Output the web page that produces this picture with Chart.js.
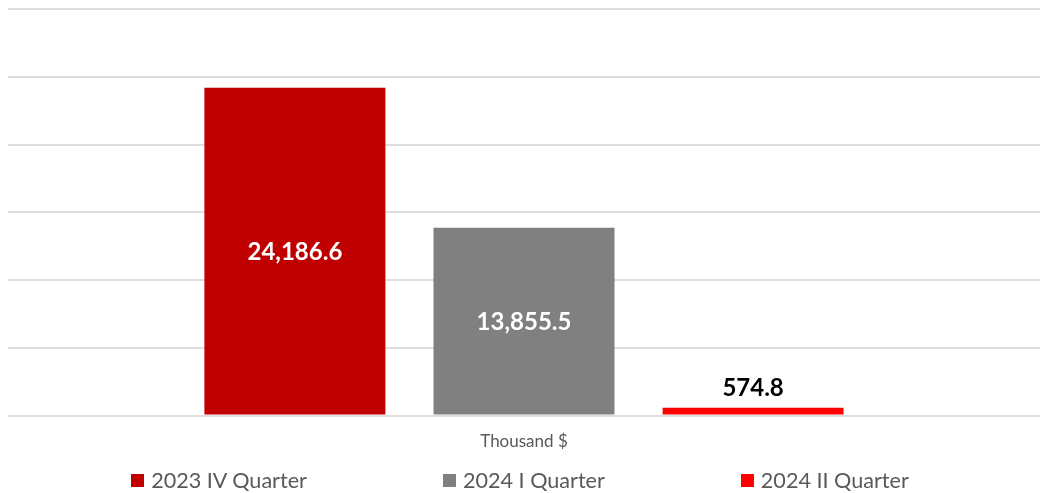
<!DOCTYPE html>
<html>
<head>
<meta charset="utf-8">
<script src="https://cdn.jsdelivr.net/npm/chart.js@4"></script>
<style>
  html, body { margin: 0; padding: 0; background: #ffffff; }
  #wrap { width: 1040px; height: 493px; position: relative; }
  #legend {
    position: absolute; left: 0; top: 467px; width: 1040px; height: 26px;
    display: flex; justify-content: center; align-items: center; gap: 136px;
    font-family: Lato, sans-serif; font-size: 21.6px; color: #595959; white-space: nowrap;
  }
  #legend .item { display: flex; align-items: center; }
  #legend .box { width: 13px; height: 13px; margin-right: 7px; }
</style>
</head>
<body>
<div id="wrap"><canvas id="c"></canvas><div id="legend"></div></div>
<script>
const categories = [''];
const seriesNames = ['2023 IV Quarter', '2024 I Quarter', '2024 II Quarter'];
const seriesValues = [[24186.6], [13855.5], [574.8]];
const seriesColors = ['#c00000', '#808080', '#ff0000'];
const labelColors = ['#ffffff', '#ffffff', '#000000'];
const labelInside = [true, true, false];
const axisTitle = 'Thousand $';
const yMax = 30000;
const yStep = 5000;

const fmt = v => v.toLocaleString('en-US', { minimumFractionDigits: 1, maximumFractionDigits: 1 });

const valueLabels = {
  id: 'valueLabels',
  afterDatasetsDraw(chart) {
    const ctx = chart.ctx;
    ctx.save();
    ctx.font = 'bold 24px Lato';
    ctx.textAlign = 'center';
    ctx.textBaseline = 'middle';
    chart.data.datasets.forEach((ds, i) => {
      const meta = chart.getDatasetMeta(i);
      meta.data.forEach((bar, j) => {
        const v = ds.data[j];
        const y = labelInside[i] ? (bar.y + bar.base) / 2 + 1 : bar.y - 20;
        ctx.fillStyle = labelColors[i];
        ctx.fillText(fmt(v), bar.x, y);
      });
    });
    ctx.restore();
  }
};

const chart = new Chart(document.getElementById('c'), {
  type: 'bar',
  data: {
    labels: categories,
    datasets: seriesNames.map((n, i) => ({
      label: n,
      data: seriesValues[i],
      backgroundColor: seriesColors[i],
      borderWidth: 0,
      categoryPercentage: 0.666,
      barPercentage: 0.79
    }))
  },
  options: {
    responsive: true,
    maintainAspectRatio: false,
    animation: false,
    layout: { padding: { left: 8, right: 0, top: 9, bottom: 41 } },
    plugins: {
      tooltip: { enabled: false },
      legend: { display: false }
    },
    scales: {
      x: {
        grid: { display: false },
        border: { display: false },
        ticks: { display: false },
        title: {
          display: true,
          text: axisTitle,
          color: '#595959',
          font: { family: 'Lato', size: 17 },
          padding: { top: 8, bottom: 0 }
        }
      },
      y: {
        min: 0,
        max: yMax,
        ticks: { display: false, stepSize: yStep },
        border: { display: false },
        grid: { color: '#dedede', lineWidth: 2, drawTicks: false }
      }
    }
  },
  plugins: [valueLabels]
});

const legendEl = document.getElementById('legend');
chart.data.datasets.forEach(ds => {
  const item = document.createElement('div');
  item.className = 'item';
  const box = document.createElement('span');
  box.className = 'box';
  box.style.background = ds.backgroundColor;
  const txt = document.createElement('span');
  txt.textContent = ds.label;
  item.appendChild(box);
  item.appendChild(txt);
  legendEl.appendChild(item);
});
</script>
</body>
</html>
